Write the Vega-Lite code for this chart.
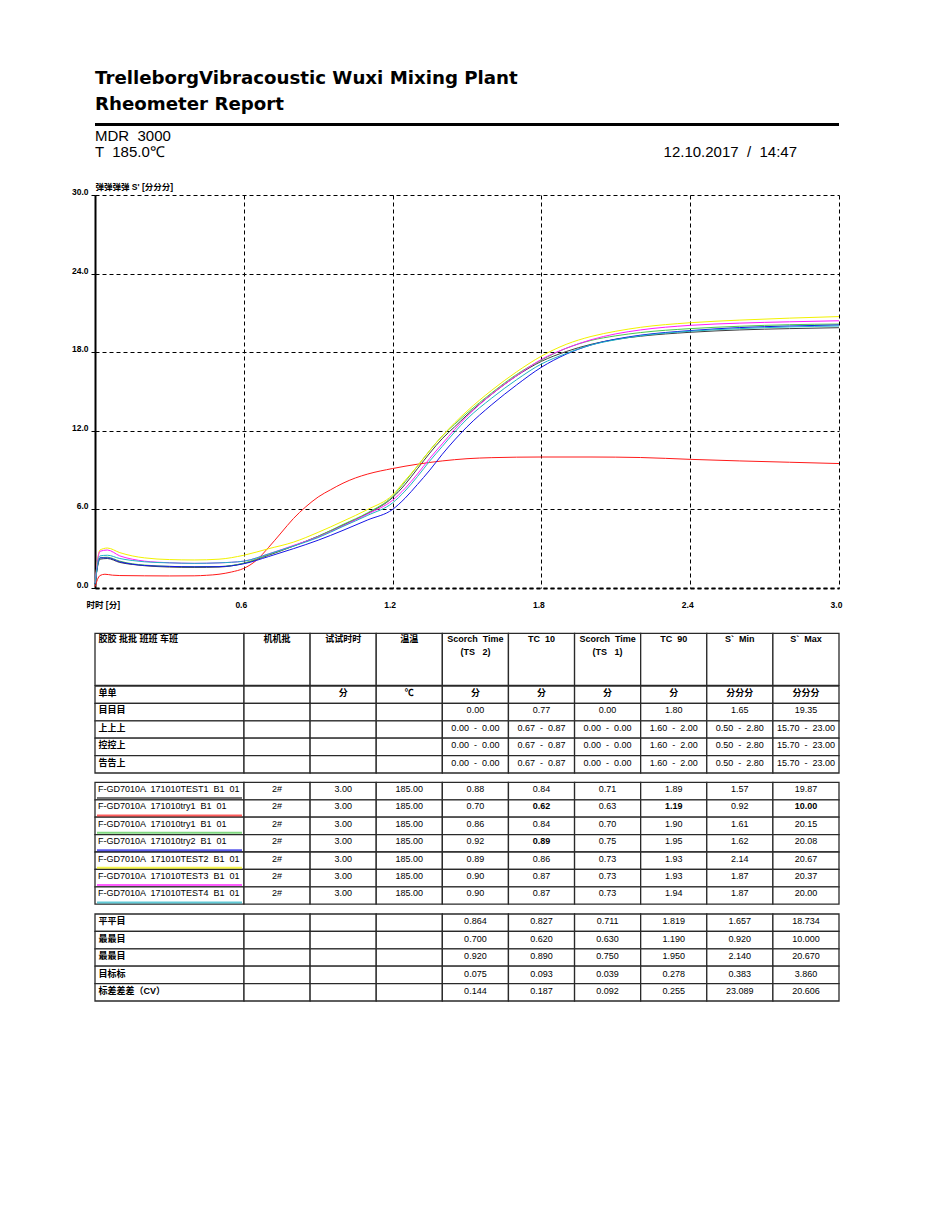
{
"$schema": "https://vega.github.io/schema/vega-lite/v6.json",
"background": "white",
"padding": {"left": 71, "top": 69, "right": 5, "bottom": 5},
"config": {
  "font": "Liberation Sans, Noto Sans CJK SC, sans-serif",
  "view": {"stroke": null},
  "text": {"color": "black"},
  "title": {"color": "black"}
},
"datasets": {
  "meta": [
    {"t": "MDR \u00a03000", "line": "1", "side": "left"},
    {"t": "T \u00a0185.0℃", "line": "2", "side": "left"},
    {"t": "12.10.2017 \u00a0/ \u00a014:47", "line": "2", "side": "right"}
  ],
  "curves": [
    {"s":"S1","t":0,"v":0.3},{"s":"S1","t":0.02,"v":2.2},{"s":"S1","t":0.05,"v":2.25},{"s":"S1","t":0.1,"v":1.95},{"s":"S1","t":0.15,"v":1.8},{"s":"S1","t":0.2,"v":1.7},{"s":"S1","t":0.3,"v":1.6},{"s":"S1","t":0.4,"v":1.57},{"s":"S1","t":0.5,"v":1.6},{"s":"S1","t":0.6,"v":1.88},{"s":"S1","t":0.7,"v":2.5},{"s":"S1","t":0.8,"v":3.2},{"s":"S1","t":0.9,"v":3.95},{"s":"S1","t":1.0,"v":4.8},{"s":"S1","t":1.1,"v":5.7},{"s":"S1","t":1.2,"v":6.9},{"s":"S1","t":1.25,"v":7.9},{"s":"S1","t":1.3,"v":9.1},{"s":"S1","t":1.35,"v":10.3},{"s":"S1","t":1.4,"v":11.4},{"s":"S1","t":1.45,"v":12.3},{"s":"S1","t":1.5,"v":13.2},{"s":"S1","t":1.6,"v":14.8},{"s":"S1","t":1.7,"v":16.2},{"s":"S1","t":1.8,"v":17.3},{"s":"S1","t":1.9,"v":18.05},{"s":"S1","t":2.0,"v":18.6},{"s":"S1","t":2.1,"v":18.98},{"s":"S1","t":2.2,"v":19.22},{"s":"S1","t":2.4,"v":19.52},{"s":"S1","t":2.6,"v":19.7},{"s":"S1","t":2.8,"v":19.8},{"s":"S1","t":3.0,"v":19.87},
    {"s":"S2","t":0,"v":0.1},{"s":"S2","t":0.02,"v":0.95},{"s":"S2","t":0.04,"v":1.05},{"s":"S2","t":0.07,"v":0.98},{"s":"S2","t":0.1,"v":0.95},{"s":"S2","t":0.2,"v":0.93},{"s":"S2","t":0.3,"v":0.92},{"s":"S2","t":0.4,"v":0.93},{"s":"S2","t":0.45,"v":0.97},{"s":"S2","t":0.5,"v":1.05},{"s":"S2","t":0.55,"v":1.22},{"s":"S2","t":0.6,"v":1.5},{"s":"S2","t":0.65,"v":2.1},{"s":"S2","t":0.7,"v":3.1},{"s":"S2","t":0.75,"v":4.2},{"s":"S2","t":0.8,"v":5.3},{"s":"S2","t":0.85,"v":6.2},{"s":"S2","t":0.9,"v":6.95},{"s":"S2","t":0.95,"v":7.5},{"s":"S2","t":1.0,"v":8.0},{"s":"S2","t":1.05,"v":8.4},{"s":"S2","t":1.1,"v":8.7},{"s":"S2","t":1.2,"v":9.12},{"s":"S2","t":1.3,"v":9.45},{"s":"S2","t":1.4,"v":9.7},{"s":"S2","t":1.5,"v":9.87},{"s":"S2","t":1.6,"v":9.95},{"s":"S2","t":1.8,"v":10.0},{"s":"S2","t":2.0,"v":10.0},{"s":"S2","t":2.2,"v":9.96},{"s":"S2","t":2.4,"v":9.82},{"s":"S2","t":2.6,"v":9.7},{"s":"S2","t":2.8,"v":9.6},{"s":"S2","t":3.0,"v":9.5},
    {"s":"S3","t":0,"v":0.3},{"s":"S3","t":0.02,"v":2.3},{"s":"S3","t":0.05,"v":2.35},{"s":"S3","t":0.1,"v":2.05},{"s":"S3","t":0.15,"v":1.85},{"s":"S3","t":0.2,"v":1.75},{"s":"S3","t":0.3,"v":1.65},{"s":"S3","t":0.4,"v":1.62},{"s":"S3","t":0.5,"v":1.64},{"s":"S3","t":0.6,"v":1.9},{"s":"S3","t":0.7,"v":2.55},{"s":"S3","t":0.8,"v":3.2},{"s":"S3","t":0.9,"v":3.95},{"s":"S3","t":1.0,"v":4.85},{"s":"S3","t":1.1,"v":5.75},{"s":"S3","t":1.2,"v":7.0},{"s":"S3","t":1.25,"v":8.1},{"s":"S3","t":1.3,"v":9.3},{"s":"S3","t":1.35,"v":10.5},{"s":"S3","t":1.4,"v":11.6},{"s":"S3","t":1.45,"v":12.5},{"s":"S3","t":1.5,"v":13.35},{"s":"S3","t":1.6,"v":14.9},{"s":"S3","t":1.7,"v":16.3},{"s":"S3","t":1.8,"v":17.4},{"s":"S3","t":1.9,"v":18.3},{"s":"S3","t":2.0,"v":18.9},{"s":"S3","t":2.1,"v":19.25},{"s":"S3","t":2.2,"v":19.5},{"s":"S3","t":2.4,"v":19.8},{"s":"S3","t":2.6,"v":19.98},{"s":"S3","t":2.8,"v":20.1},{"s":"S3","t":3.0,"v":20.15},
    {"s":"S4","t":0,"v":0.3},{"s":"S4","t":0.02,"v":2.3},{"s":"S4","t":0.05,"v":2.3},{"s":"S4","t":0.1,"v":2.0},{"s":"S4","t":0.15,"v":1.82},{"s":"S4","t":0.2,"v":1.72},{"s":"S4","t":0.3,"v":1.65},{"s":"S4","t":0.4,"v":1.62},{"s":"S4","t":0.5,"v":1.63},{"s":"S4","t":0.6,"v":1.85},{"s":"S4","t":0.7,"v":2.4},{"s":"S4","t":0.8,"v":3.0},{"s":"S4","t":0.9,"v":3.65},{"s":"S4","t":1.0,"v":4.4},{"s":"S4","t":1.1,"v":5.2},{"s":"S4","t":1.2,"v":6.0},{"s":"S4","t":1.25,"v":6.85},{"s":"S4","t":1.3,"v":7.9},{"s":"S4","t":1.35,"v":9.0},{"s":"S4","t":1.4,"v":10.2},{"s":"S4","t":1.45,"v":11.3},{"s":"S4","t":1.5,"v":12.3},{"s":"S4","t":1.6,"v":14.0},{"s":"S4","t":1.7,"v":15.5},{"s":"S4","t":1.8,"v":16.85},{"s":"S4","t":1.9,"v":17.85},{"s":"S4","t":2.0,"v":18.55},{"s":"S4","t":2.1,"v":19.0},{"s":"S4","t":2.2,"v":19.3},{"s":"S4","t":2.4,"v":19.65},{"s":"S4","t":2.6,"v":19.88},{"s":"S4","t":2.8,"v":20.0},{"s":"S4","t":3.0,"v":20.08},
    {"s":"S5","t":0,"v":0.4},{"s":"S5","t":0.02,"v":2.9},{"s":"S5","t":0.05,"v":3.05},{"s":"S5","t":0.1,"v":2.7},{"s":"S5","t":0.15,"v":2.45},{"s":"S5","t":0.2,"v":2.3},{"s":"S5","t":0.3,"v":2.17},{"s":"S5","t":0.4,"v":2.14},{"s":"S5","t":0.5,"v":2.2},{"s":"S5","t":0.6,"v":2.5},{"s":"S5","t":0.7,"v":3.0},{"s":"S5","t":0.8,"v":3.5},{"s":"S5","t":0.9,"v":4.25},{"s":"S5","t":1.0,"v":5.1},{"s":"S5","t":1.1,"v":6.0},{"s":"S5","t":1.2,"v":7.1},{"s":"S5","t":1.25,"v":8.2},{"s":"S5","t":1.3,"v":9.3},{"s":"S5","t":1.35,"v":10.5},{"s":"S5","t":1.4,"v":11.6},{"s":"S5","t":1.45,"v":12.6},{"s":"S5","t":1.5,"v":13.5},{"s":"S5","t":1.6,"v":15.1},{"s":"S5","t":1.7,"v":16.5},{"s":"S5","t":1.8,"v":17.7},{"s":"S5","t":1.9,"v":18.6},{"s":"S5","t":2.0,"v":19.2},{"s":"S5","t":2.1,"v":19.6},{"s":"S5","t":2.2,"v":19.9},{"s":"S5","t":2.4,"v":20.25},{"s":"S5","t":2.6,"v":20.45},{"s":"S5","t":2.8,"v":20.6},{"s":"S5","t":3.0,"v":20.72},
    {"s":"S6","t":0,"v":0.4},{"s":"S6","t":0.02,"v":2.8},{"s":"S6","t":0.05,"v":2.9},{"s":"S6","t":0.1,"v":2.45},{"s":"S6","t":0.15,"v":2.2},{"s":"S6","t":0.2,"v":2.05},{"s":"S6","t":0.3,"v":1.93},{"s":"S6","t":0.4,"v":1.88},{"s":"S6","t":0.5,"v":1.92},{"s":"S6","t":0.6,"v":2.05},{"s":"S6","t":0.7,"v":2.6},{"s":"S6","t":0.8,"v":3.25},{"s":"S6","t":0.9,"v":3.9},{"s":"S6","t":1.0,"v":4.75},{"s":"S6","t":1.1,"v":5.65},{"s":"S6","t":1.2,"v":6.7},{"s":"S6","t":1.25,"v":7.6},{"s":"S6","t":1.3,"v":8.7},{"s":"S6","t":1.35,"v":9.9},{"s":"S6","t":1.4,"v":11.0},{"s":"S6","t":1.45,"v":12.1},{"s":"S6","t":1.5,"v":13.1},{"s":"S6","t":1.6,"v":14.8},{"s":"S6","t":1.7,"v":16.2},{"s":"S6","t":1.8,"v":17.45},{"s":"S6","t":1.9,"v":18.3},{"s":"S6","t":2.0,"v":18.95},{"s":"S6","t":2.1,"v":19.4},{"s":"S6","t":2.2,"v":19.7},{"s":"S6","t":2.4,"v":20.05},{"s":"S6","t":2.6,"v":20.22},{"s":"S6","t":2.8,"v":20.32},{"s":"S6","t":3.0,"v":20.4},
    {"s":"S7","t":0,"v":0.35},{"s":"S7","t":0.02,"v":2.45},{"s":"S7","t":0.05,"v":2.5},{"s":"S7","t":0.1,"v":2.25},{"s":"S7","t":0.15,"v":2.1},{"s":"S7","t":0.2,"v":2.0},{"s":"S7","t":0.3,"v":1.92},{"s":"S7","t":0.4,"v":1.88},{"s":"S7","t":0.5,"v":1.92},{"s":"S7","t":0.6,"v":2.05},{"s":"S7","t":0.7,"v":2.6},{"s":"S7","t":0.8,"v":3.2},{"s":"S7","t":0.9,"v":3.85},{"s":"S7","t":1.0,"v":4.7},{"s":"S7","t":1.1,"v":5.55},{"s":"S7","t":1.2,"v":6.5},{"s":"S7","t":1.25,"v":7.4},{"s":"S7","t":1.3,"v":8.5},{"s":"S7","t":1.35,"v":9.7},{"s":"S7","t":1.4,"v":10.8},{"s":"S7","t":1.45,"v":11.9},{"s":"S7","t":1.5,"v":12.9},{"s":"S7","t":1.6,"v":14.5},{"s":"S7","t":1.7,"v":15.9},{"s":"S7","t":1.8,"v":17.1},{"s":"S7","t":1.9,"v":17.9},{"s":"S7","t":2.0,"v":18.55},{"s":"S7","t":2.1,"v":18.95},{"s":"S7","t":2.2,"v":19.25},{"s":"S7","t":2.4,"v":19.6},{"s":"S7","t":2.6,"v":19.8},{"s":"S7","t":2.8,"v":19.93},{"s":"S7","t":3.0,"v":20.0}
  ],
  "cells": [
    {"b":"head","r":"h","c":"name","t":"胶胶 批批 班班 车班"},
    {"b":"head","r":"h","c":"machine","t":"机机批"},
    {"b":"head","r":"h","c":"time","t":"试试时时"},
    {"b":"head","r":"h","c":"temp","t":"温温"},
    {"b":"head","r":"h","c":"ts2","t":"Scorch \u00a0Time\n(TS \u00a0 2)"},
    {"b":"head","r":"h","c":"tc10","t":"TC \u00a010"},
    {"b":"head","r":"h","c":"ts1","t":"Scorch \u00a0Time\n(TS \u00a0 1)"},
    {"b":"head","r":"h","c":"tc90","t":"TC \u00a090"},
    {"b":"head","r":"h","c":"smin","t":"S` \u00a0Min"},
    {"b":"head","r":"h","c":"smax","t":"S` \u00a0Max"},

    {"b":"spec","r":"unit","c":"name","t":"单单"},
    {"b":"spec","r":"unit","c":"machine","t":""},
    {"b":"spec","r":"unit","c":"time","t":"分"},
    {"b":"spec","r":"unit","c":"temp","t":"℃"},
    {"b":"spec","r":"unit","c":"ts2","t":"分"},
    {"b":"spec","r":"unit","c":"tc10","t":"分"},
    {"b":"spec","r":"unit","c":"ts1","t":"分"},
    {"b":"spec","r":"unit","c":"tc90","t":"分"},
    {"b":"spec","r":"unit","c":"smin","t":"分分分"},
    {"b":"spec","r":"unit","c":"smax","t":"分分分"},

    {"b":"spec","r":"target","c":"name","t":"目目目"},
    {"b":"spec","r":"target","c":"machine","t":""},
    {"b":"spec","r":"target","c":"time","t":""},
    {"b":"spec","r":"target","c":"temp","t":""},
    {"b":"spec","r":"target","c":"ts2","t":"0.00"},
    {"b":"spec","r":"target","c":"tc10","t":"0.77"},
    {"b":"spec","r":"target","c":"ts1","t":"0.00"},
    {"b":"spec","r":"target","c":"tc90","t":"1.80"},
    {"b":"spec","r":"target","c":"smin","t":"1.65"},
    {"b":"spec","r":"target","c":"smax","t":"19.35"},

    {"b":"spec","r":"upper","c":"name","t":"上上上"},
    {"b":"spec","r":"upper","c":"machine","t":""},
    {"b":"spec","r":"upper","c":"time","t":""},
    {"b":"spec","r":"upper","c":"temp","t":""},
    {"b":"spec","r":"upper","c":"ts2","t":"0.00 \u00a0- \u00a00.00"},
    {"b":"spec","r":"upper","c":"tc10","t":"0.67 \u00a0- \u00a00.87"},
    {"b":"spec","r":"upper","c":"ts1","t":"0.00 \u00a0- \u00a00.00"},
    {"b":"spec","r":"upper","c":"tc90","t":"1.60 \u00a0- \u00a02.00"},
    {"b":"spec","r":"upper","c":"smin","t":"0.50 \u00a0- \u00a02.80"},
    {"b":"spec","r":"upper","c":"smax","t":"15.70 \u00a0- \u00a023.00"},

    {"b":"spec","r":"control","c":"name","t":"控控上"},
    {"b":"spec","r":"control","c":"machine","t":""},
    {"b":"spec","r":"control","c":"time","t":""},
    {"b":"spec","r":"control","c":"temp","t":""},
    {"b":"spec","r":"control","c":"ts2","t":"0.00 \u00a0- \u00a00.00"},
    {"b":"spec","r":"control","c":"tc10","t":"0.67 \u00a0- \u00a00.87"},
    {"b":"spec","r":"control","c":"ts1","t":"0.00 \u00a0- \u00a00.00"},
    {"b":"spec","r":"control","c":"tc90","t":"1.60 \u00a0- \u00a02.00"},
    {"b":"spec","r":"control","c":"smin","t":"0.50 \u00a0- \u00a02.80"},
    {"b":"spec","r":"control","c":"smax","t":"15.70 \u00a0- \u00a023.00"},

    {"b":"spec","r":"alarm","c":"name","t":"告告上"},
    {"b":"spec","r":"alarm","c":"machine","t":""},
    {"b":"spec","r":"alarm","c":"time","t":""},
    {"b":"spec","r":"alarm","c":"temp","t":""},
    {"b":"spec","r":"alarm","c":"ts2","t":"0.00 \u00a0- \u00a00.00"},
    {"b":"spec","r":"alarm","c":"tc10","t":"0.67 \u00a0- \u00a00.87"},
    {"b":"spec","r":"alarm","c":"ts1","t":"0.00 \u00a0- \u00a00.00"},
    {"b":"spec","r":"alarm","c":"tc90","t":"1.60 \u00a0- \u00a02.00"},
    {"b":"spec","r":"alarm","c":"smin","t":"0.50 \u00a0- \u00a02.80"},
    {"b":"spec","r":"alarm","c":"smax","t":"15.70 \u00a0- \u00a023.00"},

    {"b":"samp","r":"S1","c":"name","t":"F-GD7010A \u00a0171010TEST1 \u00a0B1 \u00a001"},
    {"b":"samp","r":"S1","c":"machine","t":"2#"},
    {"b":"samp","r":"S1","c":"time","t":"3.00"},
    {"b":"samp","r":"S1","c":"temp","t":"185.00"},
    {"b":"samp","r":"S1","c":"ts2","t":"0.88"},
    {"b":"samp","r":"S1","c":"tc10","t":"0.84"},
    {"b":"samp","r":"S1","c":"ts1","t":"0.71"},
    {"b":"samp","r":"S1","c":"tc90","t":"1.89"},
    {"b":"samp","r":"S1","c":"smin","t":"1.57"},
    {"b":"samp","r":"S1","c":"smax","t":"19.87"},

    {"b":"samp","r":"S2","c":"name","t":"F-GD7010A \u00a0171010try1 \u00a0B1 \u00a001"},
    {"b":"samp","r":"S2","c":"machine","t":"2#"},
    {"b":"samp","r":"S2","c":"time","t":"3.00"},
    {"b":"samp","r":"S2","c":"temp","t":"185.00"},
    {"b":"samp","r":"S2","c":"ts2","t":"0.70"},
    {"b":"samp","r":"S2","c":"tc10","t":"0.62","o":true},
    {"b":"samp","r":"S2","c":"ts1","t":"0.63"},
    {"b":"samp","r":"S2","c":"tc90","t":"1.19","o":true},
    {"b":"samp","r":"S2","c":"smin","t":"0.92"},
    {"b":"samp","r":"S2","c":"smax","t":"10.00","o":true},

    {"b":"samp","r":"S3","c":"name","t":"F-GD7010A \u00a0171010try1 \u00a0B1 \u00a001"},
    {"b":"samp","r":"S3","c":"machine","t":"2#"},
    {"b":"samp","r":"S3","c":"time","t":"3.00"},
    {"b":"samp","r":"S3","c":"temp","t":"185.00"},
    {"b":"samp","r":"S3","c":"ts2","t":"0.86"},
    {"b":"samp","r":"S3","c":"tc10","t":"0.84"},
    {"b":"samp","r":"S3","c":"ts1","t":"0.70"},
    {"b":"samp","r":"S3","c":"tc90","t":"1.90"},
    {"b":"samp","r":"S3","c":"smin","t":"1.61"},
    {"b":"samp","r":"S3","c":"smax","t":"20.15"},

    {"b":"samp","r":"S4","c":"name","t":"F-GD7010A \u00a0171010try2 \u00a0B1 \u00a001"},
    {"b":"samp","r":"S4","c":"machine","t":"2#"},
    {"b":"samp","r":"S4","c":"time","t":"3.00"},
    {"b":"samp","r":"S4","c":"temp","t":"185.00"},
    {"b":"samp","r":"S4","c":"ts2","t":"0.92"},
    {"b":"samp","r":"S4","c":"tc10","t":"0.89","o":true},
    {"b":"samp","r":"S4","c":"ts1","t":"0.75"},
    {"b":"samp","r":"S4","c":"tc90","t":"1.95"},
    {"b":"samp","r":"S4","c":"smin","t":"1.62"},
    {"b":"samp","r":"S4","c":"smax","t":"20.08"},

    {"b":"samp","r":"S5","c":"name","t":"F-GD7010A \u00a0171010TEST2 \u00a0B1 \u00a001"},
    {"b":"samp","r":"S5","c":"machine","t":"2#"},
    {"b":"samp","r":"S5","c":"time","t":"3.00"},
    {"b":"samp","r":"S5","c":"temp","t":"185.00"},
    {"b":"samp","r":"S5","c":"ts2","t":"0.89"},
    {"b":"samp","r":"S5","c":"tc10","t":"0.86"},
    {"b":"samp","r":"S5","c":"ts1","t":"0.73"},
    {"b":"samp","r":"S5","c":"tc90","t":"1.93"},
    {"b":"samp","r":"S5","c":"smin","t":"2.14"},
    {"b":"samp","r":"S5","c":"smax","t":"20.67"},

    {"b":"samp","r":"S6","c":"name","t":"F-GD7010A \u00a0171010TEST3 \u00a0B1 \u00a001"},
    {"b":"samp","r":"S6","c":"machine","t":"2#"},
    {"b":"samp","r":"S6","c":"time","t":"3.00"},
    {"b":"samp","r":"S6","c":"temp","t":"185.00"},
    {"b":"samp","r":"S6","c":"ts2","t":"0.90"},
    {"b":"samp","r":"S6","c":"tc10","t":"0.87"},
    {"b":"samp","r":"S6","c":"ts1","t":"0.73"},
    {"b":"samp","r":"S6","c":"tc90","t":"1.93"},
    {"b":"samp","r":"S6","c":"smin","t":"1.87"},
    {"b":"samp","r":"S6","c":"smax","t":"20.37"},

    {"b":"samp","r":"S7","c":"name","t":"F-GD7010A \u00a0171010TEST4 \u00a0B1 \u00a001"},
    {"b":"samp","r":"S7","c":"machine","t":"2#"},
    {"b":"samp","r":"S7","c":"time","t":"3.00"},
    {"b":"samp","r":"S7","c":"temp","t":"185.00"},
    {"b":"samp","r":"S7","c":"ts2","t":"0.90"},
    {"b":"samp","r":"S7","c":"tc10","t":"0.87"},
    {"b":"samp","r":"S7","c":"ts1","t":"0.73"},
    {"b":"samp","r":"S7","c":"tc90","t":"1.94"},
    {"b":"samp","r":"S7","c":"smin","t":"1.87"},
    {"b":"samp","r":"S7","c":"smax","t":"20.00"},

    {"b":"stat","r":"avg","c":"name","t":"平平目"},
    {"b":"stat","r":"avg","c":"machine","t":""},
    {"b":"stat","r":"avg","c":"time","t":""},
    {"b":"stat","r":"avg","c":"temp","t":""},
    {"b":"stat","r":"avg","c":"ts2","t":"0.864"},
    {"b":"stat","r":"avg","c":"tc10","t":"0.827"},
    {"b":"stat","r":"avg","c":"ts1","t":"0.711"},
    {"b":"stat","r":"avg","c":"tc90","t":"1.819"},
    {"b":"stat","r":"avg","c":"smin","t":"1.657"},
    {"b":"stat","r":"avg","c":"smax","t":"18.734"},

    {"b":"stat","r":"min","c":"name","t":"最最目"},
    {"b":"stat","r":"min","c":"machine","t":""},
    {"b":"stat","r":"min","c":"time","t":""},
    {"b":"stat","r":"min","c":"temp","t":""},
    {"b":"stat","r":"min","c":"ts2","t":"0.700"},
    {"b":"stat","r":"min","c":"tc10","t":"0.620"},
    {"b":"stat","r":"min","c":"ts1","t":"0.630"},
    {"b":"stat","r":"min","c":"tc90","t":"1.190"},
    {"b":"stat","r":"min","c":"smin","t":"0.920"},
    {"b":"stat","r":"min","c":"smax","t":"10.000"},

    {"b":"stat","r":"max","c":"name","t":"最最目"},
    {"b":"stat","r":"max","c":"machine","t":""},
    {"b":"stat","r":"max","c":"time","t":""},
    {"b":"stat","r":"max","c":"temp","t":""},
    {"b":"stat","r":"max","c":"ts2","t":"0.920"},
    {"b":"stat","r":"max","c":"tc10","t":"0.890"},
    {"b":"stat","r":"max","c":"ts1","t":"0.750"},
    {"b":"stat","r":"max","c":"tc90","t":"1.950"},
    {"b":"stat","r":"max","c":"smin","t":"2.140"},
    {"b":"stat","r":"max","c":"smax","t":"20.670"},

    {"b":"stat","r":"std","c":"name","t":"目标标"},
    {"b":"stat","r":"std","c":"machine","t":""},
    {"b":"stat","r":"std","c":"time","t":""},
    {"b":"stat","r":"std","c":"temp","t":""},
    {"b":"stat","r":"std","c":"ts2","t":"0.075"},
    {"b":"stat","r":"std","c":"tc10","t":"0.093"},
    {"b":"stat","r":"std","c":"ts1","t":"0.039"},
    {"b":"stat","r":"std","c":"tc90","t":"0.278"},
    {"b":"stat","r":"std","c":"smin","t":"0.383"},
    {"b":"stat","r":"std","c":"smax","t":"3.860"},

    {"b":"stat","r":"cv","c":"name","t":"标差差差（CV）"},
    {"b":"stat","r":"cv","c":"machine","t":""},
    {"b":"stat","r":"cv","c":"time","t":""},
    {"b":"stat","r":"cv","c":"temp","t":""},
    {"b":"stat","r":"cv","c":"ts2","t":"0.144"},
    {"b":"stat","r":"cv","c":"tc10","t":"0.187"},
    {"b":"stat","r":"cv","c":"ts1","t":"0.092"},
    {"b":"stat","r":"cv","c":"tc90","t":"0.255"},
    {"b":"stat","r":"cv","c":"smin","t":"23.089"},
    {"b":"stat","r":"cv","c":"smax","t":"20.606"}
  ]
},
"bounds": "flush",
"spacing": 0,
"vconcat": [
  {
    "width": 744,
    "height": 3,
    "title": {"text": ["TrelleborgVibracoustic Wuxi Mixing Plant", "Rheometer Report"], "anchor": "start", "frame": "group", "font": "DejaVu Sans", "fontSize": 18.2, "fontWeight": "bold", "lineHeight": 26, "offset": 8.5, "color": "black"},
    "data": {"values": [{"k": 1}]},
    "mark": {"type": "rect", "color": "black"},
    "encoding": {}
  },
  {
    "width": 702,
    "height": 69,
    "data": {"name": "meta"},
    "encoding": {
      "x": {"field": "side", "type": "nominal", "scale": {"type": "point", "domain": ["left", "right"], "padding": 0}, "axis": null},
      "y": {"field": "line", "type": "ordinal", "scale": {"type": "point", "domain": ["1", "2"], "range": [10, 26], "padding": 0}, "axis": null},
      "text": {"field": "t"}
    },
    "layer": [
      {"transform": [{"filter": "datum.side == 'left'"}], "mark": {"type": "text", "align": "left", "baseline": "middle", "fontSize": 15, "font": "Liberation Sans"}},
      {"transform": [{"filter": "datum.side == 'right'"}], "mark": {"type": "text", "align": "right", "baseline": "middle", "fontSize": 15, "font": "Liberation Sans"}}
    ]
  },
  {
    "width": 744,
    "height": 393,
    "data": {"name": "curves"},
    "mark": {"type": "line", "strokeWidth": 1, "interpolate": "monotone"},
    "encoding": {
      "x": {"field": "t", "type": "quantitative", "scale": {"domain": [0, 3], "nice": false, "zero": false},
        "axis": {"values": [0, 0.6, 1.2, 1.8, 2.4, 3.0], "format": ".1f", "labelExpr": "datum.value == 0 ? '' : datum.label",
          "grid": true, "gridColor": "black", "gridDash": [4, 3], "gridOpacity": 1, "gridWidth": 1,
          "domainColor": "black", "domainDash": [4, 3], "domainWidth": 2, "ticks": false,
          "labelFontSize": 8.5, "labelFontWeight": "bold", "labelColor": "black", "labelPadding": 12, "labelOffset": -3, "labelFlush": false, "labelOverlap": false,
          "title": "时时 [分]", "titleFontSize": 8.5, "titleFontWeight": "bold", "titleColor": "black", "titleAngle": 0, "titleAlign": "left", "titleBaseline": "middle", "titleX": -9, "titleY": 16.8}},
      "y": {"field": "v", "type": "quantitative", "scale": {"domain": [0, 30], "nice": false},
        "axis": {"values": [0, 6, 12, 18, 24, 30], "format": ".1f",
          "grid": true, "gridColor": "black", "gridDash": [4, 3], "gridOpacity": 1, "gridWidth": 1,
          "domainColor": "black", "domainWidth": 2, "tickColor": "black", "tickSize": 4, "tickWidth": 1,
          "labelFontSize": 8.5, "labelFontWeight": "bold", "labelColor": "black", "labelPadding": 3, "labelOffset": -3.5, "labelFlush": false, "labelOverlap": false,
          "title": "弹弹弹弹 S' [分分分]", "titleFontSize": 8.5, "titleFontWeight": "bold", "titleColor": "black", "titleAngle": 0, "titleAlign": "left", "titleBaseline": "middle", "titleX": 0, "titleY": -9}},
      "color": {"field": "s", "type": "nominal", "scale": {"domain": ["S1", "S2", "S3", "S4", "S5", "S6", "S7"], "range": ["#3d3d3d", "#ff1a1a", "#4cc74c", "#1414e6", "#f2f200", "#ff1aff", "#1fb3c4"]}, "legend": null}
    }
  },
  {
    "width": 744, "height": 97.3,
    "data": {"name": "cells"},
    "transform": [{"filter": "datum.b == 'head'"}],
    "encoding": {"y": {"field": "r", "type": "nominal", "scale": {"domain": ["h"], "range": [45.3, 97.3], "paddingInner": 0, "paddingOuter": 0}, "axis": null}},
    "resolve": {"scale": {"x": "independent"}},
    "layer": [
      {
        "transform": [{"filter": "datum.c == 'name'"}],
        "encoding": {"x": {"field": "c", "type": "nominal", "scale": {"domain": ["name"], "range": [0, 149], "paddingInner": 0, "paddingOuter": 0}, "axis": null}},
        "layer": [
          {"mark": {"type": "rect", "fill": "white", "stroke": "#2a2a2a", "strokeWidth": 1.3}},
          {"mark": {"type": "text", "align": "left", "baseline": "top", "dx": 3.5, "dy": 2, "fontSize": 9, "fontWeight": "bold"},
           "encoding": {"x": {"field": "c", "type": "nominal", "axis": null, "bandPosition": 0},
                        "y": {"field": "r", "type": "nominal", "axis": null, "bandPosition": 0}, "text": {"field": "t"}}}
        ]
      },
      {
        "transform": [{"filter": "datum.c != 'name'"}],
        "encoding": {"x": {"field": "c", "type": "nominal", "scale": {"domain": ["machine", "time", "temp", "ts2", "tc10", "ts1", "tc90", "smin", "smax"], "range": [149, 744], "paddingInner": 0, "paddingOuter": 0}, "axis": null}},
        "layer": [
          {"mark": {"type": "rect", "fill": "white", "stroke": "#2a2a2a", "strokeWidth": 1.3}},
          {"mark": {"type": "text", "baseline": "top", "dy": 2, "fontSize": 9, "fontWeight": "bold", "lineBreak": "\n", "lineHeight": 12.4},
           "encoding": {"y": {"field": "r", "type": "nominal", "axis": null, "bandPosition": 0}, "text": {"field": "t"}}}
        ]
      }
    ]
  },
  {
    "width": 744, "height": 87,
    "data": {"name": "cells"},
    "transform": [{"filter": "datum.b == 'spec'"}],
    "encoding": {"y": {"field": "r", "type": "nominal", "scale": {"domain": ["unit", "target", "upper", "control", "alarm"], "range": [0, 87], "paddingInner": 0, "paddingOuter": 0}, "axis": null}},
    "resolve": {"scale": {"x": "independent"}},
    "layer": [
      {
        "transform": [{"filter": "datum.c == 'name'"}],
        "encoding": {"x": {"field": "c", "type": "nominal", "scale": {"domain": ["name"], "range": [0, 149], "paddingInner": 0, "paddingOuter": 0}, "axis": null}},
        "layer": [
          {"mark": {"type": "rect", "fill": "white", "stroke": "#2a2a2a", "strokeWidth": 1.3}},
          {"mark": {"type": "text", "align": "left", "baseline": "middle", "dx": 3.5, "fontSize": 9, "fontWeight": "bold"},
           "encoding": {"x": {"field": "c", "type": "nominal", "axis": null, "bandPosition": 0},
                        "y": {"field": "r", "type": "nominal", "axis": null, "bandPosition": 0.4}, "text": {"field": "t"}}}
        ]
      },
      {
        "transform": [{"filter": "datum.c != 'name'"}],
        "encoding": {"x": {"field": "c", "type": "nominal", "scale": {"domain": ["machine", "time", "temp", "ts2", "tc10", "ts1", "tc90", "smin", "smax"], "range": [149, 744], "paddingInner": 0, "paddingOuter": 0}, "axis": null}},
        "layer": [
          {"mark": {"type": "rect", "fill": "white", "stroke": "#2a2a2a", "strokeWidth": 1.3}},
          {"transform": [{"filter": "datum.r != 'unit'"}],
           "mark": {"type": "text", "baseline": "middle", "fontSize": 9},
           "encoding": {"y": {"field": "r", "type": "nominal", "axis": null, "bandPosition": 0.4}, "text": {"field": "t"}}},
          {"transform": [{"filter": "datum.r == 'unit'"}],
           "mark": {"type": "text", "baseline": "middle", "fontSize": 9, "fontWeight": "bold"},
           "encoding": {"y": {"field": "r", "type": "nominal", "axis": null, "bandPosition": 0.4}, "text": {"field": "t"}}}
        ]
      }
    ]
  },
  {
    "width": 744, "height": 131.2,
    "data": {"name": "cells"},
    "transform": [{"filter": "datum.b == 'samp'"}],
    "encoding": {"y": {"field": "r", "type": "nominal", "scale": {"domain": ["S1", "S2", "S3", "S4", "S5", "S6", "S7"], "range": [9.4, 131.2], "paddingInner": 0, "paddingOuter": 0}, "axis": null}},
    "resolve": {"scale": {"x": "independent"}},
    "layer": [
      {
        "transform": [{"filter": "datum.c == 'name'"}],
        "encoding": {"x": {"field": "c", "type": "nominal", "scale": {"domain": ["name"], "range": [0, 149], "paddingInner": 0, "paddingOuter": 0}, "axis": null}},
        "layer": [
          {"mark": {"type": "rect", "fill": "white", "stroke": "#2a2a2a", "strokeWidth": 1.3}},
          {"mark": {"type": "tick", "orient": "horizontal", "size": 145, "thickness": 2},
           "encoding": {"y": {"field": "r", "type": "nominal", "axis": null, "bandPosition": 0.9},
                        "color": {"field": "r", "type": "nominal", "scale": {"domain": ["S1", "S2", "S3", "S4", "S5", "S6", "S7"], "range": ["#808080", "#ff1a1a", "#5fd85f", "#1a1aa8", "#ffff66", "#ff1aff", "#1fa8a8"]}, "legend": null}}},
          {"mark": {"type": "text", "align": "left", "baseline": "middle", "dx": 3, "fontSize": 9},
           "encoding": {"x": {"field": "c", "type": "nominal", "axis": null, "bandPosition": 0},
                        "y": {"field": "r", "type": "nominal", "axis": null, "bandPosition": 0.38}, "text": {"field": "t"}}}
        ]
      },
      {
        "transform": [{"filter": "datum.c != 'name'"}],
        "encoding": {"x": {"field": "c", "type": "nominal", "scale": {"domain": ["machine", "time", "temp", "ts2", "tc10", "ts1", "tc90", "smin", "smax"], "range": [149, 744], "paddingInner": 0, "paddingOuter": 0}, "axis": null}},
        "layer": [
          {"mark": {"type": "rect", "fill": "white", "stroke": "#2a2a2a", "strokeWidth": 1.3}},
          {"transform": [{"filter": "!datum.o"}],
           "mark": {"type": "text", "baseline": "middle", "fontSize": 9},
           "encoding": {"y": {"field": "r", "type": "nominal", "axis": null, "bandPosition": 0.38}, "text": {"field": "t"}}},
          {"transform": [{"filter": "datum.o"}],
           "mark": {"type": "text", "baseline": "middle", "fontSize": 9, "fontWeight": "bold"},
           "encoding": {"y": {"field": "r", "type": "nominal", "axis": null, "bandPosition": 0.38}, "text": {"field": "t"}}}
        ]
      }
    ]
  },
  {
    "width": 744, "height": 96,
    "data": {"name": "cells"},
    "transform": [{"filter": "datum.b == 'stat'"}],
    "encoding": {"y": {"field": "r", "type": "nominal", "scale": {"domain": ["avg", "min", "max", "std", "cv"], "range": [9, 96], "paddingInner": 0, "paddingOuter": 0}, "axis": null}},
    "resolve": {"scale": {"x": "independent"}},
    "layer": [
      {
        "transform": [{"filter": "datum.c == 'name'"}],
        "encoding": {"x": {"field": "c", "type": "nominal", "scale": {"domain": ["name"], "range": [0, 149], "paddingInner": 0, "paddingOuter": 0}, "axis": null}},
        "layer": [
          {"mark": {"type": "rect", "fill": "white", "stroke": "#2a2a2a", "strokeWidth": 1.3}},
          {"mark": {"type": "text", "align": "left", "baseline": "middle", "dx": 3.5, "fontSize": 9, "fontWeight": "bold"},
           "encoding": {"x": {"field": "c", "type": "nominal", "axis": null, "bandPosition": 0},
                        "y": {"field": "r", "type": "nominal", "axis": null, "bandPosition": 0.42}, "text": {"field": "t"}}}
        ]
      },
      {
        "transform": [{"filter": "datum.c != 'name'"}],
        "encoding": {"x": {"field": "c", "type": "nominal", "scale": {"domain": ["machine", "time", "temp", "ts2", "tc10", "ts1", "tc90", "smin", "smax"], "range": [149, 744], "paddingInner": 0, "paddingOuter": 0}, "axis": null}},
        "layer": [
          {"mark": {"type": "rect", "fill": "white", "stroke": "#2a2a2a", "strokeWidth": 1.3}},
          {"mark": {"type": "text", "baseline": "middle", "fontSize": 9},
           "encoding": {"y": {"field": "r", "type": "nominal", "axis": null, "bandPosition": 0.42}, "text": {"field": "t"}}}
        ]
      }
    ]
  }
]
}
